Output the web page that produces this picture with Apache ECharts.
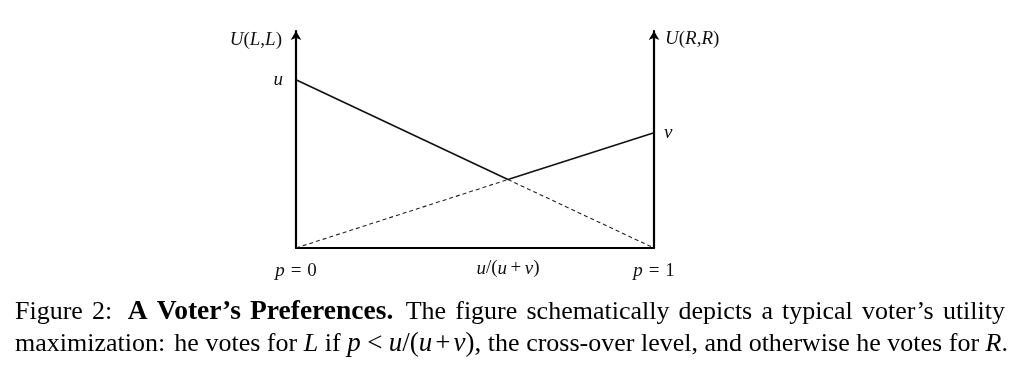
<!DOCTYPE html>
<html>
<head>
<meta charset="utf-8">
<script src="https://cdn.jsdelivr.net/npm/echarts@6/dist/echarts.min.js"></script>
<style>
html,body{margin:0;padding:0;background:#fff;}
#chart{width:1024px;height:366px;}
</style>
</head>
<body>
<div id="chart"></div>
<script>
// ---- data ----
var uValue = 1.0;          // U(L,L) at p = 0
var vValue = 0.685;        // U(R,R) at p = 1
var crossP = 0.592;        // cross-over level u/(u+v)
var crossU = 0.407;        // utility at the cross-over
var yMax = 1.29;

// line for voting L: solid up to cross-over, dashed after
var lineLsolid = [[0, uValue], [crossP, crossU]];
var lineLdash  = [[crossP, crossU], [1, 0]];
// line for voting R: dashed up to cross-over, solid after
var lineRdash  = [[0, 0], [crossP, crossU]];
var lineRsolid = [[crossP, crossU], [1, vValue]];

var xTickValues = [0, crossP, 1];
var xTickLabels = ['{i|p}{s| }{n|=}{s| }{n|0}', '{i|u}{n|/(}{i|u}{t| }{n|+}{t| }{i|v}{n|)}', '{i|p}{s| }{n|=}{s| }{n|1}'];

// caption tokens: [style, text] runs per word
var caption1 = [
  [['n', 'Figure']], [['n', '2:']], [['b', 'A']], [['b', 'Voter\u2019s']], [['b', 'Preferences.']],
  [['n', 'The']], [['n', 'figure']], [['n', 'schematically']], [['n', 'depicts']], [['n', 'a']],
  [['n', 'typical']], [['n', 'voter\u2019s']], [['n', 'utility']]
];
var caption1Gaps = [1, 1.7, 1, 1, 1.35, 1, 1, 1, 1, 1, 1, 1];
var caption2 = [
  [['n', 'maximization:']], [['n', 'he']], [['n', 'votes']], [['n', 'for']], [['i', 'L']], [['n', 'if']],
  [['mi', 'p'], ['m', ' '], ['mn', '<'], ['m', ' '], ['mi', 'u'], ['mn', '/('], ['mi', 'u'], ['th', ' '], ['mn', '+'], ['th', ' '], ['mi', 'v'], ['mn', '),']],
  [['n', 'the']], [['n', 'cross-over']], [['n', 'level,']], [['n', 'and']], [['n', 'otherwise']],
  [['n', 'he']], [['n', 'votes']], [['n', 'for']], [['i', 'R'], ['n', '.']]
];
var caption2Gaps = [1.4, 1, 1, 1, 1, 1, 1, 1, 1, 1, 1, 1, 1, 1, 1];

var serif = '"Liberation Serif", "DejaVu Serif", serif';
var mathRich = {
  i: {fontFamily: serif, fontStyle: 'italic', fontSize: 19, color: '#111'},
  n: {fontFamily: serif, fontSize: 19, color: '#111'},
  s: {fontFamily: serif, fontSize: 24, color: '#111'},
  t: {fontFamily: serif, fontSize: 14, color: '#111'}
};
var capSize = 26;
var capStyles = {
  n: {fontSize: capSize},
  b: {fontSize: 27.5, fontWeight: 'bold'},
  i: {fontSize: capSize, fontStyle: 'italic'},
  mi: {fontSize: 27, fontStyle: 'italic'},
  mn: {fontSize: 27},
  m: {fontSize: 26},
  th: {fontSize: 12}
};

var measureCtx = document.createElement('canvas').getContext('2d');
function runFont(st) {
  var r = capStyles[st];
  return (r.fontStyle || 'normal') + ' ' + (r.fontWeight || 'normal') + ' ' + r.fontSize + 'px "Liberation Serif"';
}
function runWidth(run) {
  measureCtx.font = runFont(run[0]);
  return measureCtx.measureText(run[1]).width;
}
function tokenWidth(tok) {
  return tok.reduce(function (w, run) { return w + runWidth(run); }, 0);
}
// lay out one justified caption line; each run is its own text on a common baseline
function justify(tokens, gaps, x0, x1, baseline) {
  var widths = tokens.map(tokenWidth);
  var total = widths.reduce(function (a, b) { return a + b; }, 0);
  var gw = gaps.reduce(function (a, b) { return a + b; }, 0);
  var unit = (x1 - x0 - total) / gw;
  var x = x0, out = [];
  tokens.forEach(function (tok, k) {
    var rx = x;
    tok.forEach(function (run) {
      var st = capStyles[run[0]];
      if (run[1].trim() !== '') {
        out.push({
          type: 'text', x: rx, y: baseline - 0.84 * st.fontSize, silent: true,
          style: {
            text: run[1], fontFamily: serif, fontSize: st.fontSize,
            fontWeight: st.fontWeight || 'normal', fontStyle: st.fontStyle || 'normal',
            fill: '#000', align: 'left', verticalAlign: 'top'
          }
        });
      }
      rx += runWidth(run);
    });
    x += widths[k] + (k < gaps.length ? gaps[k] * unit : 0);
  });
  return out;
}

var chart = echarts.init(document.getElementById('chart'), null, {renderer: 'canvas'});

var solidStyle = {color: '#111', width: 1.6, type: 'solid'};
var dashStyle = {color: '#222', width: 1.1, type: [4, 3]};

function mkLine(data, style) {
  return {
    type: 'line', data: data, showSymbol: false, symbol: 'none',
    lineStyle: style, itemStyle: {color: style.color},
    animation: false, silent: true, z: 3
  };
}

var option = {
  backgroundColor: '#fff',
  animation: false,
  grid: {left: 296, right: 370, top: 31, bottom: 118, containLabel: false},
  xAxis: {
    type: 'value', min: 0, max: 1,
    axisLine: {show: true, onZero: false, lineStyle: {color: '#000', width: 2.2}},
    axisTick: {show: false},
    splitLine: {show: false},
    axisLabel: {
      show: true, margin: 11,
      customValues: xTickValues,
      formatter: function (val) {
        var idx = xTickValues.indexOf(val);
        return idx >= 0 ? xTickLabels[idx] : '';
      },
      rich: mathRich,
      showMinLabel: true, showMaxLabel: true
    }
  },
  yAxis: [
    {
      type: 'value', min: 0, max: yMax, position: 'left',
      name: '{i|U}{n|(}{i|L}{n|,}{i|L}{n|)}',
      nameLocation: 'end', nameGap: -9,
      nameTextStyle: {align: 'right', verticalAlign: 'middle', padding: [0, 14, 0, 0], rich: mathRich},
      axisLine: {show: true, onZero: false, symbol: ['none', 'arrow'], symbolSize: [8, 9], lineStyle: {color: '#000', width: 2.2}},
      axisTick: {show: false},
      splitLine: {show: false},
      axisLabel: {
        show: true, margin: 13, customValues: [uValue],
        formatter: function () { return '{i|u}'; }, rich: mathRich
      }
    },
    {
      type: 'value', min: 0, max: yMax, position: 'right',
      name: '{i|U}{n|(}{i|R}{n|,}{i|R}{n|)}',
      nameLocation: 'end', nameGap: -8,
      nameTextStyle: {align: 'left', verticalAlign: 'middle', padding: [0, 0, 0, 11], rich: mathRich},
      axisLine: {show: true, onZero: false, symbol: ['none', 'arrow'], symbolSize: [8, 9], lineStyle: {color: '#000', width: 2.2}},
      axisTick: {show: false},
      splitLine: {show: false},
      axisLabel: {
        show: true, margin: 10, customValues: [vValue],
        formatter: function () { return '{i|v}'; }, rich: mathRich
      }
    }
  ],
  series: [
    mkLine(lineLsolid, solidStyle),
    mkLine(lineRsolid, solidStyle),
    mkLine(lineLdash, dashStyle),
    mkLine(lineRdash, dashStyle)
  ],
  graphic: justify(caption1, caption1Gaps, 15, 1005, 321).concat(justify(caption2, caption2Gaps, 15, 1008, 353))
};
chart.setOption(option);
</script>
</body>
</html>
